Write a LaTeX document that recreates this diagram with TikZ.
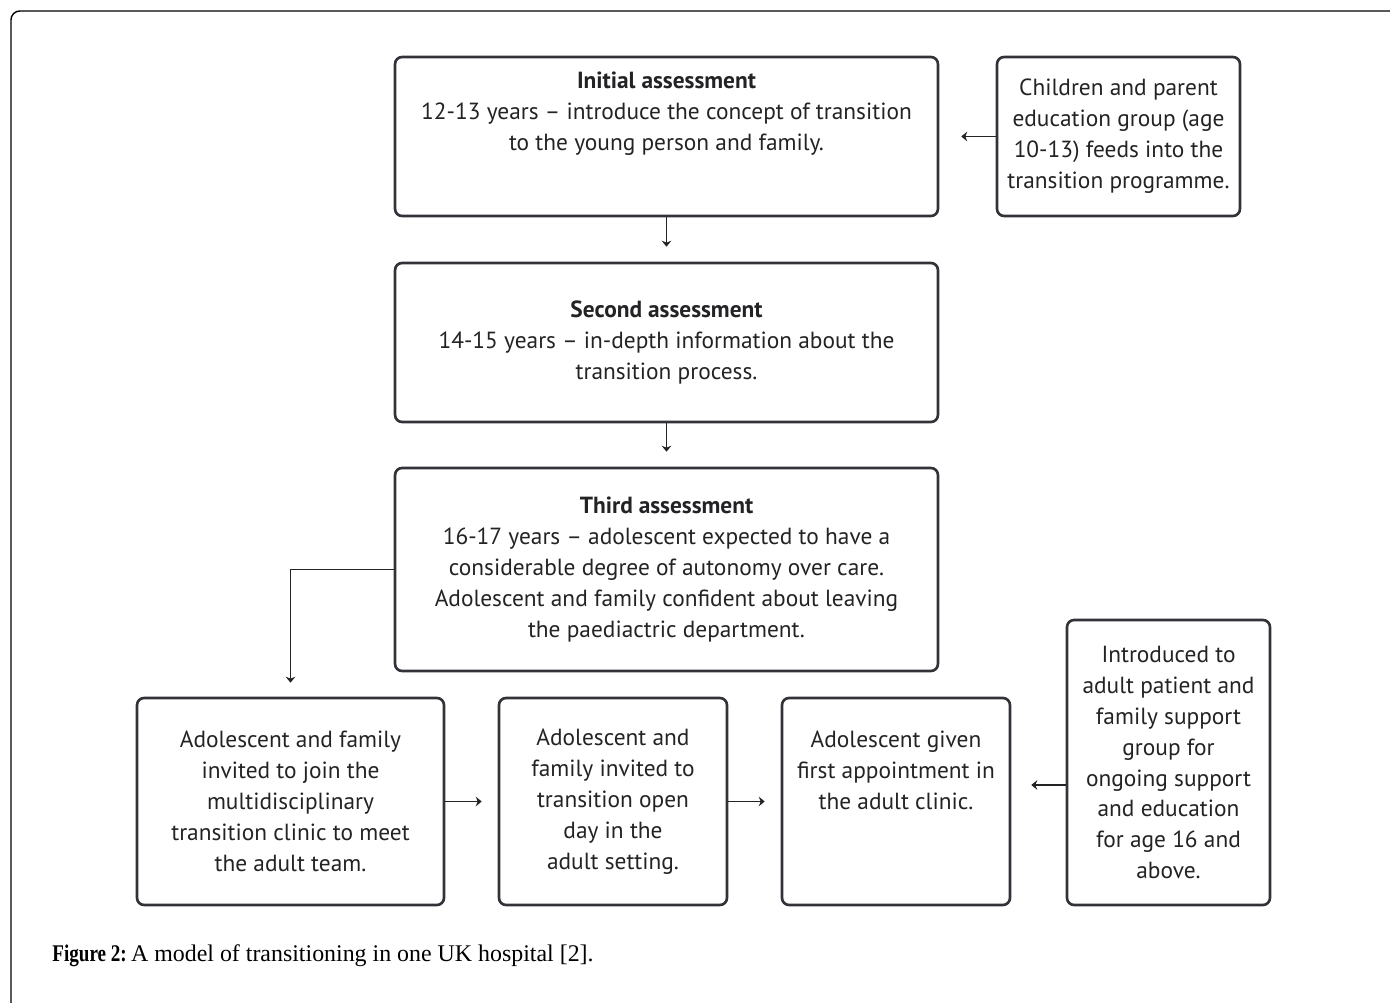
\documentclass[tikz,border=0pt]{standalone}
\usepackage{fontspec}
\setmainfont{Liberation Serif}
\newfontfamily\boxfont{PT Sans}
\usetikzlibrary{arrows.meta,positioning}
\definecolor{figInk}{RGB}{35,35,38}
\definecolor{figEdge}{RGB}{50,50,56}

\begin{document}
\begin{tikzpicture}[
  x=0.02cm,y=-0.02cm,
  font=\boxfont\fontsize{13.3}{17.6}\selectfont,
  >={Stealth[length=3.4pt,width=5.5pt]},
  box/.style={draw=figEdge,line width=1.5pt,rounded corners=4pt,align=center,text=figInk,inner sep=0pt},
  stage/.style={box,minimum width=10.86cm,minimum height=3.18cm},
  sidebox/.style={box,minimum width=4.86cm,minimum height=3.18cm},
  stepbox/.style={box,minimum height=4.14cm},
  arrow/.style={->,line width=1pt,draw=figInk},
  frame/.style={draw=black,line width=0.8pt,rounded corners=5pt},
  caption/.style={font=\rmfamily\fontsize{13.6}{15}\selectfont,text=black,anchor=west,inner sep=0pt}
]

\clip (0,0) rectangle (1390,1003);
\draw[frame] (11,11) rectangle (1440,1050);

% assessments
\node[stage] (init) at (666.5,136.5) {
  \textbf{Initial assessment}\\
  12-13 years – introduce the concept of transition\\
  to the young person and family.\\[0.4cm]\mbox{}
};
\node[sidebox] (group) at (1118.5,136.5) {
  Children and parent\\
  education group (age\\
  10-13) feeds into the\\
  transition programme.
};
\node[stage] (second) at (666.5,342.5) {
  \textbf{Second assessment}\\
  14-15 years – in-depth information about the\\
  transition process.
};
\node[stage,minimum height=4.06cm] (third) at (666.5,569.5) {
  \textbf{Third assessment}\\
  16-17 years – adolescent expected to have a\\
  considerable degree of autonomy over care.\\
  Adolescent and family confident about leaving\\
  the paediactric department.
};

% adult side
\node[stepbox,minimum width=6.14cm] (clinic) at (290.5,801.5) {
  Adolescent and family\\
  invited to join the\\
  multidisciplinary\\
  transition clinic to meet\\
  the adult team.
};
\node[stepbox,minimum width=4.56cm] (openday) at (613,801.5) {
  Adolescent and\\
  family invited to\\
  transition open\\
  day in the\\
  adult setting.
};
\node[stepbox,minimum width=4.56cm] (firstapp) at (896,801.5) {
  Adolescent given\\
  first appointment in\\
  the adult clinic.\\
  \mbox{}\\
  \mbox{}
};
\node[box,minimum width=4.06cm,minimum height=5.7cm] (support) at (1168.5,762.5) {
  Introduced to\\
  adult patient and\\
  family support\\
  group for\\
  ongoing support\\
  and education\\
  for age 16 and\\
  above.
};

\draw[arrow,shorten >=0.44cm] (group.west) -- (init.east);
\draw[arrow,shorten >=0.3cm] (init.south) -- (second.north);
\draw[arrow,shorten >=0.3cm] (second.south) -- (third.north);
\draw[arrow,shorten >=0.28cm] (third.west) -| (clinic.north);
\draw[arrow,shorten >=0.32cm] (clinic.east) -- (openday.west);
\draw[arrow,shorten >=0.32cm] (openday.east) -- (firstapp.west);
\draw[arrow,shorten >=0.4cm] (support.west |- 0,785) -- (firstapp.east |- 0,785);

\node[caption] (cap) at (52,956) {\scalebox{0.8}[1]{\textbf{Figure 2:}}\hspace{-1pt} A model of transitioning in one UK hospital [2].};

\end{tikzpicture}
\end{document}
